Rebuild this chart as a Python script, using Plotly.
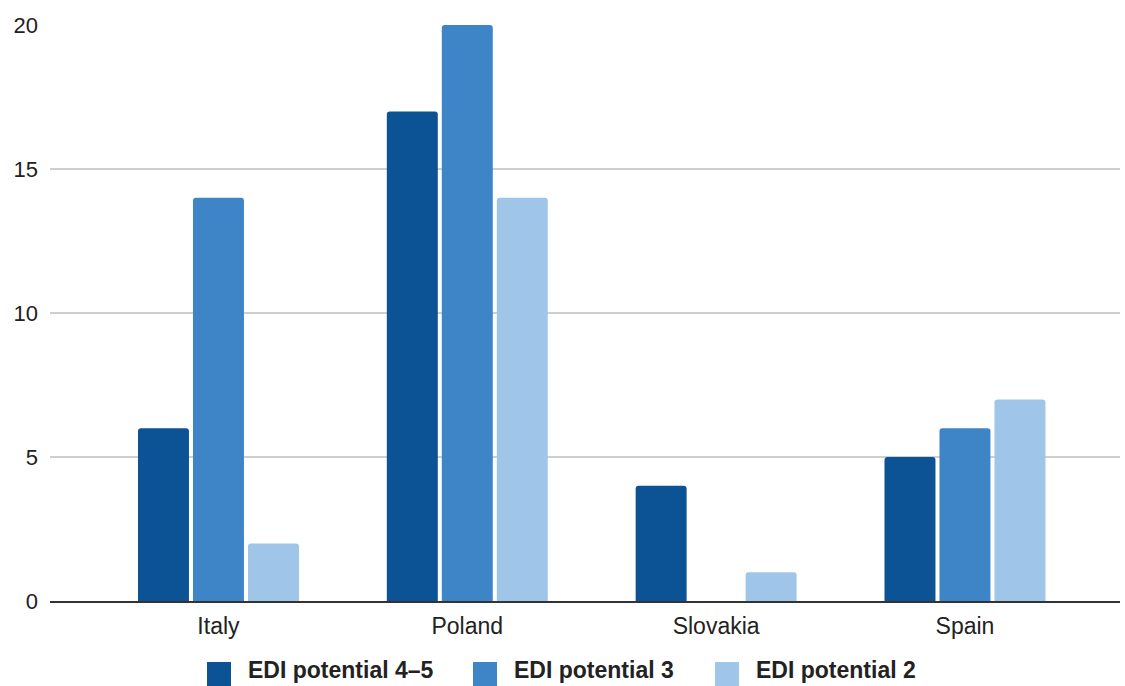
import plotly.graph_objects as go

countries = ["Italy", "Poland", "Slovakia", "Spain"]
series_names = ["EDI potential 4–5", "EDI potential 3", "EDI potential 2"]
edi_4_5 = [6, 17, 4, 5]
edi_3 = [14, 20, 0, 6]
edi_2 = [2, 14, 1, 7]
y_ticks = [0, 5, 10, 15, 20]

colors = ["#0b5394", "#3d85c6", "#9fc5e8"]
font_family = "Liberation Sans, Arial, sans-serif"

W, H = 1125, 686
M_L, M_R, M_T = 50, 5, 25
AXIS_BOTTOM_PX = 85          # space below the x axis line for labels + legend
plot_w = W - M_L - M_R
plot_h = H - M_T


def px_x(px):
    return (px - M_L) / plot_w


def px_y(py):
    return (H - py) / plot_h


fig = go.Figure()
for name, vals, col in zip(series_names, [edi_4_5, edi_3, edi_2], colors):
    fig.add_trace(go.Bar(
        x=countries, y=vals, name=name, marker_color=col,
        marker_line_width=0, showlegend=False,
    ))

# bottom legend: large square swatches with bold labels
LEG_SWATCH_X = [207, 473, 715]
SW, TEXT_OFF = 24, 39
LEG_TOP, LEG_BOT = 662, 686
LEG_TEXT_Y = 670
for x0, name, col in zip(LEG_SWATCH_X, series_names, colors):
    fig.add_shape(
        type="rect", xref="paper", yref="paper",
        x0=px_x(x0), x1=px_x(x0 + SW), y0=px_y(LEG_BOT), y1=px_y(LEG_TOP),
        fillcolor=col, line_width=0, layer="above",
    )
    fig.add_annotation(
        xref="paper", yref="paper", x=px_x(x0 + TEXT_OFF), y=px_y(LEG_TEXT_Y),
        xanchor="left", yanchor="middle", showarrow=False, text=name,
        font=dict(size=23, family=font_family, weight="bold", color="#222222"),
    )

fig.update_layout(
    width=W, height=H,
    margin=dict(l=M_L, r=M_R, t=M_T, b=0, autoexpand=False),
    paper_bgcolor="white", plot_bgcolor="white",
    barmode="group", bargap=0.337, bargroupgap=0.073, barcornerradius=3,
    font=dict(family=font_family, size=23, color="#222222"),
    showlegend=False,
    xaxis=dict(
        type="category", range=[-0.677, 3.623], automargin=False,
        showline=True, linecolor="#333333", linewidth=2,
        showgrid=False, ticks="", tickfont=dict(size=23),
        ticklabelstandoff=3,
    ),
    yaxis=dict(
        domain=[AXIS_BOTTOM_PX / plot_h, 1], automargin=False,
        range=[0, 20], tickvals=y_ticks, showgrid=True,
        gridcolor="#cfcfcf", gridwidth=2, zeroline=False,
        ticks="", ticklabelstandoff=11, tickfont=dict(size=22),
    ),
)

fig.write_html("out.html")
